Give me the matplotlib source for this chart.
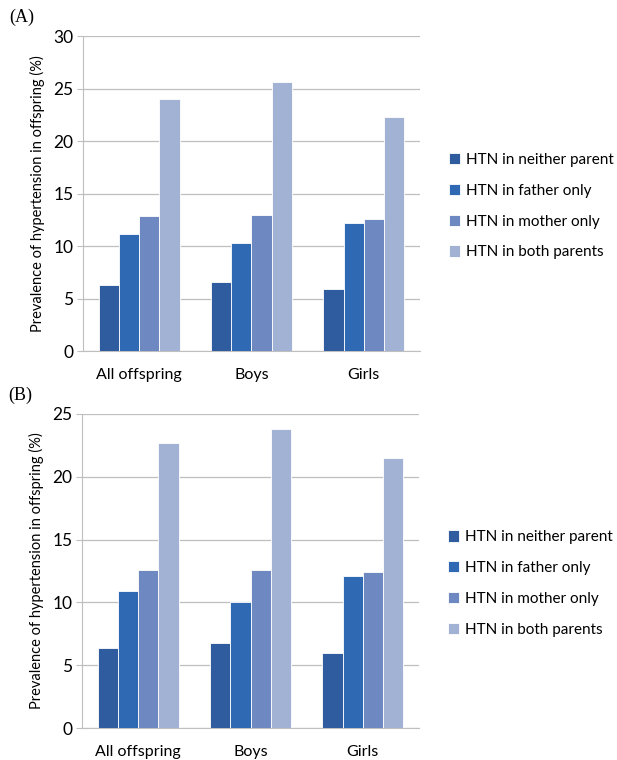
import matplotlib.pyplot as plt
import numpy as np

plt.rcParams['font.family'] = ['Lato', 'DejaVu Sans']

groups = ['All offspring', 'Boys', 'Girls']
series = ['HTN in neither parent', 'HTN in father only',
          'HTN in mother only', 'HTN in both parents']
colors = ['#2E5C9E', '#2F69B3', '#6E88C2', '#A2B2D4']

# panel A
neither_a = [6.3, 6.6, 5.9]
father_a = [11.2, 10.3, 12.2]
mother_a = [12.9, 13.0, 12.6]
both_a = [24.0, 25.6, 22.3]

# panel B
neither_b = [6.4, 6.8, 6.0]
father_b = [10.9, 10.0, 12.1]
mother_b = [12.6, 12.6, 12.4]
both_b = [22.7, 23.8, 21.5]


def draw_panel(ax, vals, ymax, label):
    x = np.arange(len(groups))
    w = 0.18
    for i, v in enumerate(vals):
        ax.bar(x + (i - 1.5) * w, v, w, color=colors[i], edgecolor='white',
               linewidth=0.6, label=series[i], zorder=3)
    ax.set_xlim(-0.5, len(groups) - 0.5)
    ax.set_ylim(0, ymax)
    ax.set_yticks(np.arange(0, ymax + 1, 5))
    ax.set_xticks(x)
    ax.set_xticklabels(groups, fontsize=11.5)
    ax.tick_params(axis='x', length=0, pad=12)
    ax.tick_params(axis='y', length=4, color='#BFBFBF', labelsize=12.5, pad=3)
    ax.grid(axis='y', color='#BFBFBF', linewidth=0.9, zorder=0)
    for s in ['top', 'right']:
        ax.spines[s].set_visible(False)
    for s in ['left', 'bottom']:
        ax.spines[s].set_color('#BFBFBF')
    ax.set_ylabel('Prevalence of hypertension in offspring (%)', fontsize=10.5,
                  labelpad=6)
    ax.legend(loc='center left', bbox_to_anchor=(1.045, 0.46),
              frameon=False, fontsize=11, handlelength=0.75,
              handleheight=0.75, handletextpad=0.35, labelspacing=1.1)
    ax.text(-0.22, 1.06, label, transform=ax.transAxes, fontsize=13,
            family='Liberation Serif', va='center')


fig = plt.figure(figsize=(6.17, 7.6), dpi=100)
ax1 = fig.add_axes([0.1345, 0.538, 0.546, 0.4145])
ax2 = fig.add_axes([0.133, 0.042, 0.546, 0.4133])

draw_panel(ax1, [neither_a, father_a, mother_a, both_a], 30, '(A)')
draw_panel(ax2, [neither_b, father_b, mother_b, both_b], 25, '(B)')

fig.savefig('out.png', dpi=100)
